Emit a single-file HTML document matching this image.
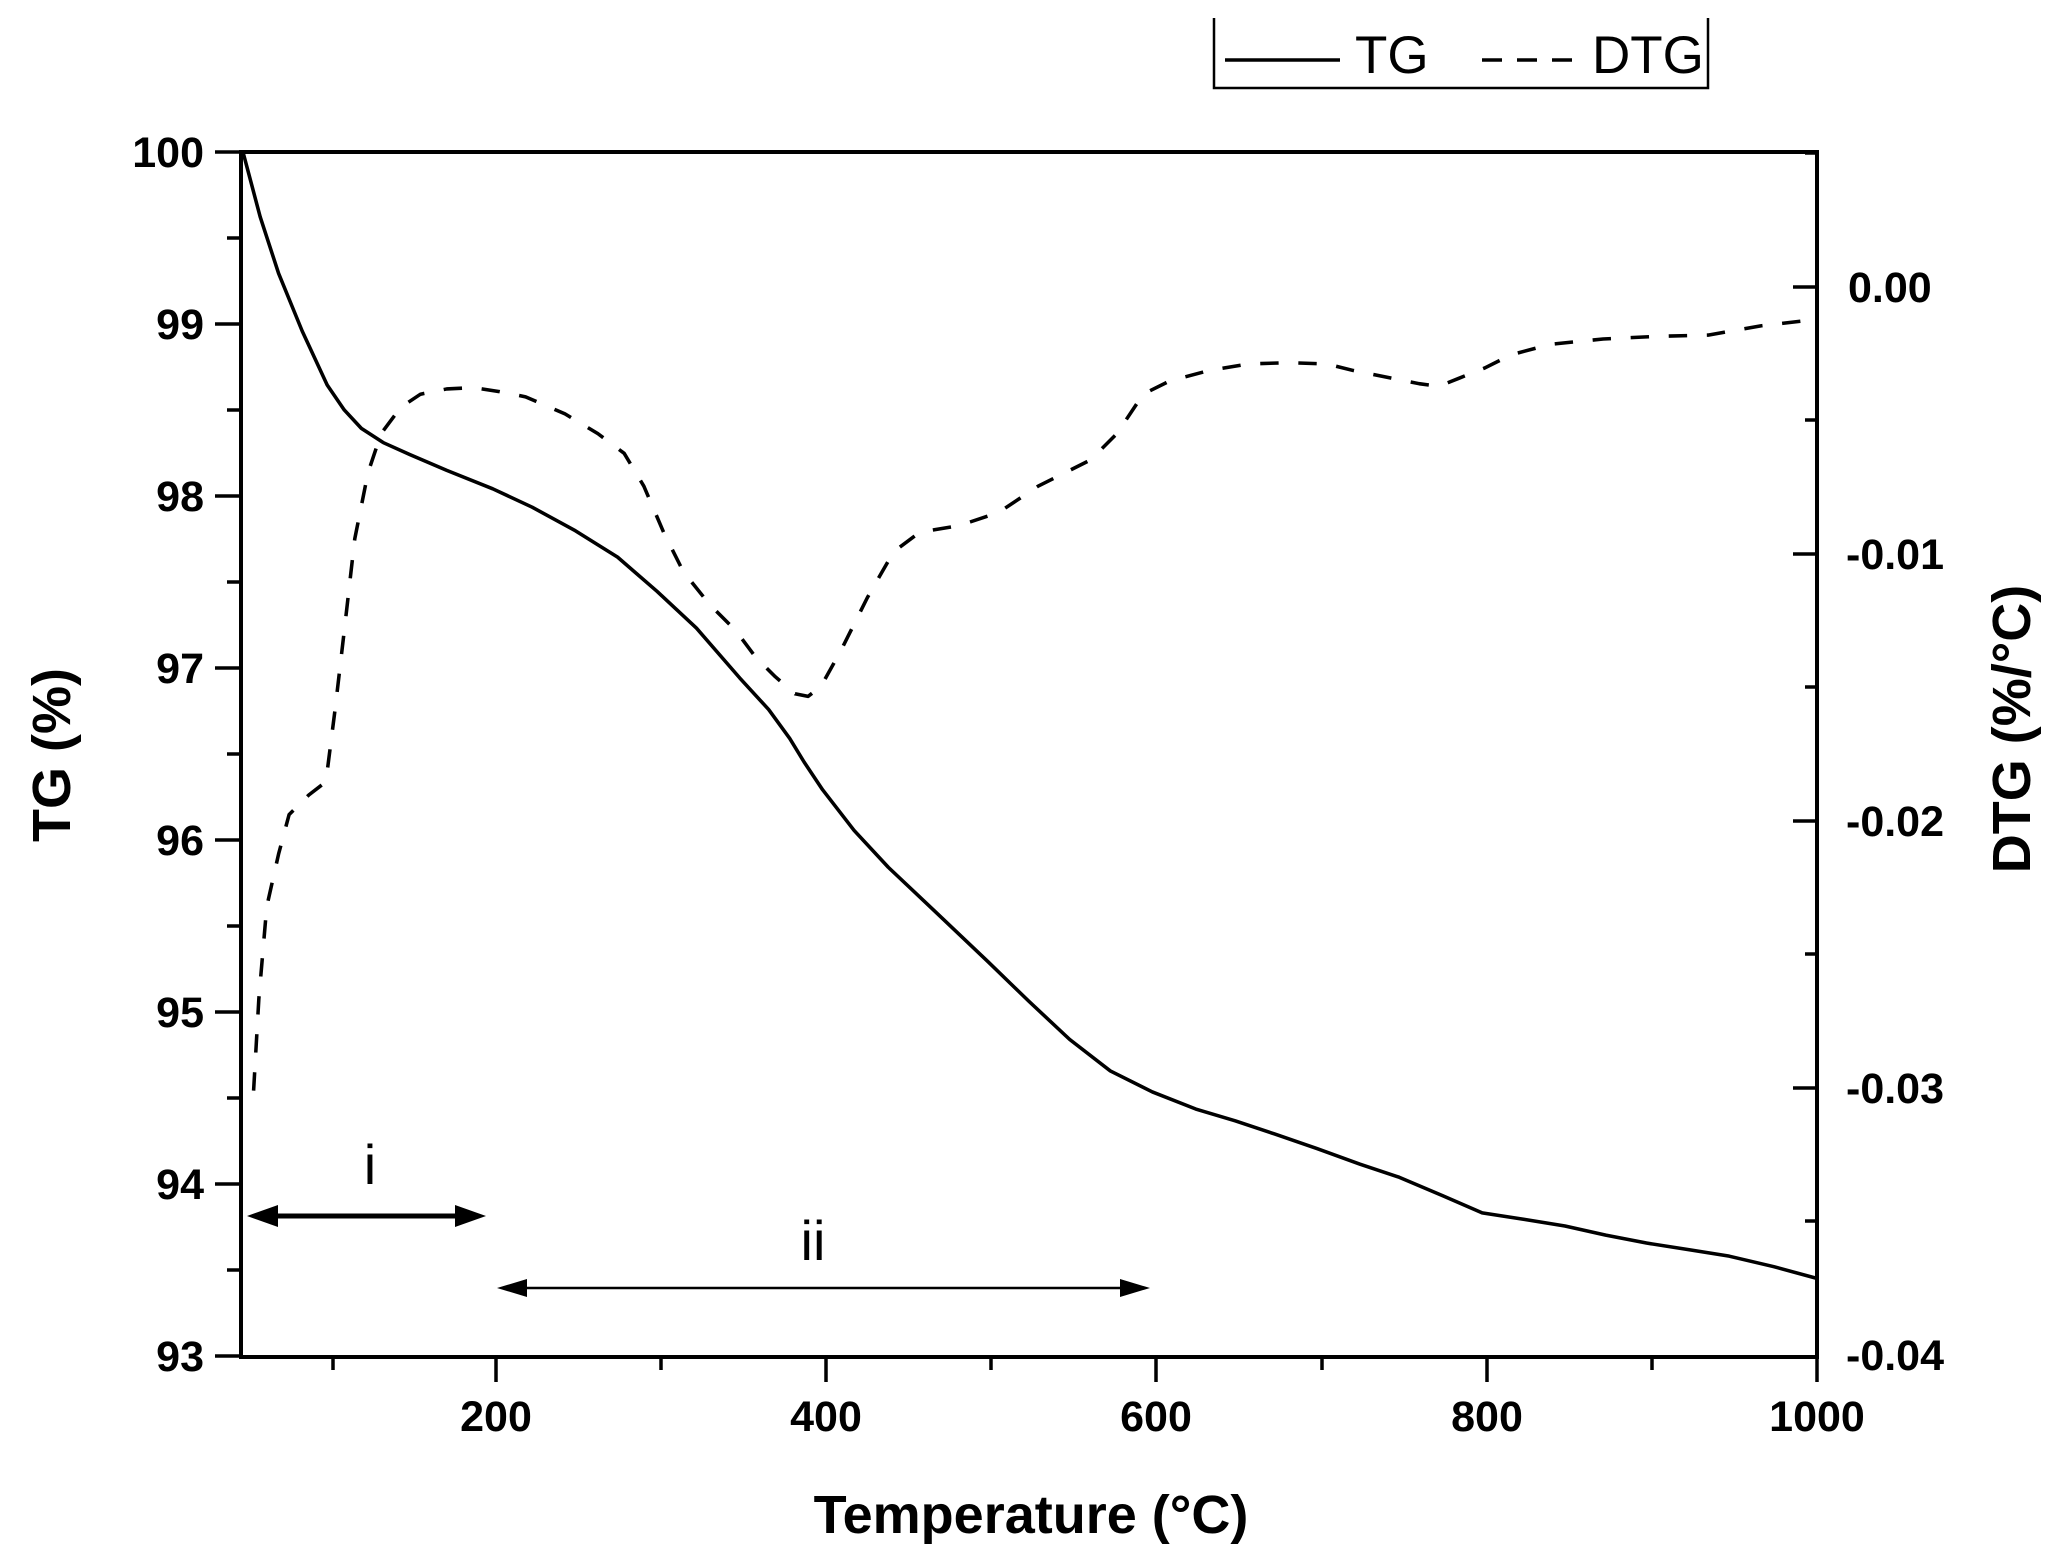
<!DOCTYPE html>
<html><head><meta charset="utf-8"><style>
html,body{margin:0;padding:0;background:#fff;}
svg{display:block;}
text{font-family:"Liberation Sans",Arial,sans-serif;fill:#000;}
</style></head><body>
<svg width="2060" height="1558" viewBox="0 0 2060 1558" xmlns="http://www.w3.org/2000/svg">
<rect width="2060" height="1558" fill="#fff"/>
<g stroke="#000" stroke-width="4" fill="none">
<line x1="241" y1="152" x2="1817" y2="152"/>
<line x1="241" y1="1357" x2="1817" y2="1357"/>
<line x1="241" y1="150" x2="241" y2="1359"/>
<line x1="1817" y1="150" x2="1817" y2="1359"/>
</g>
<g stroke="#000" stroke-width="3.5">
<line x1="215" y1="152" x2="241" y2="152"/><line x1="215" y1="324" x2="241" y2="324"/>
<line x1="215" y1="496" x2="241" y2="496"/><line x1="215" y1="668" x2="241" y2="668"/>
<line x1="215" y1="840" x2="241" y2="840"/><line x1="215" y1="1012" x2="241" y2="1012"/>
<line x1="215" y1="1184" x2="241" y2="1184"/><line x1="215" y1="1356" x2="241" y2="1356"/>
<line x1="227" y1="238" x2="241" y2="238"/><line x1="227" y1="410" x2="241" y2="410"/>
<line x1="227" y1="582" x2="241" y2="582"/><line x1="227" y1="754" x2="241" y2="754"/>
<line x1="227" y1="926" x2="241" y2="926"/><line x1="227" y1="1098" x2="241" y2="1098"/>
<line x1="227" y1="1270" x2="241" y2="1270"/>
<line x1="1793" y1="287" x2="1817" y2="287"/><line x1="1793" y1="554" x2="1817" y2="554"/>
<line x1="1793" y1="821" x2="1817" y2="821"/><line x1="1793" y1="1088" x2="1817" y2="1088"/>
<line x1="1805" y1="153" x2="1817" y2="153"/>
<line x1="1805" y1="420" x2="1817" y2="420"/><line x1="1805" y1="687" x2="1817" y2="687"/>
<line x1="1805" y1="954" x2="1817" y2="954"/><line x1="1805" y1="1221" x2="1817" y2="1221"/>
<line x1="496" y1="1357" x2="496" y2="1382"/><line x1="826" y1="1357" x2="826" y2="1382"/>
<line x1="1156" y1="1357" x2="1156" y2="1382"/><line x1="1487" y1="1357" x2="1487" y2="1382"/>
<line x1="1817" y1="1357" x2="1817" y2="1382"/>
<line x1="333" y1="1357" x2="333" y2="1370"/><line x1="661" y1="1357" x2="661" y2="1370"/>
<line x1="991" y1="1357" x2="991" y2="1370"/><line x1="1322" y1="1357" x2="1322" y2="1370"/>
<line x1="1652" y1="1357" x2="1652" y2="1370"/>
</g>
<g font-size="43" font-weight="bold" text-anchor="end">
<text x="204" y="167">100</text><text x="204" y="339">99</text><text x="204" y="511">98</text>
<text x="204" y="683">97</text><text x="204" y="855">96</text><text x="204" y="1027">95</text>
<text x="204" y="1199">94</text><text x="204" y="1371">93</text>
</g>
<g font-size="43" font-weight="bold" text-anchor="start">
<text x="1848" y="302">0.00</text><text x="1846" y="569">-0.01</text><text x="1846" y="836">-0.02</text>
<text x="1846" y="1103">-0.03</text><text x="1846" y="1370">-0.04</text>
</g>
<g font-size="43" font-weight="bold" text-anchor="middle">
<text x="496" y="1431">200</text><text x="826" y="1431">400</text><text x="1156" y="1431">600</text>
<text x="1487" y="1431">800</text><text x="1817" y="1431">1000</text>
</g>
<text x="1031" y="1533" font-size="54" font-weight="bold" text-anchor="middle">Temperature (°C)</text>
<text transform="translate(70,755) rotate(-90)" font-size="54" font-weight="bold" text-anchor="middle">TG (%)</text>
<text transform="translate(2030,729) rotate(-90)" font-size="54" font-weight="bold" text-anchor="middle">DTG (%/°C)</text>
<g transform="scale(1.314)" fill="none" stroke="#000" stroke-linejoin="round">
<polyline stroke-width="2.7" points="185,116 198,165 212,208 230,252 249,293 262,312 275,326 292,337 312,346 340,358 375,372 405,386 438,404 470,424 500,450 530,478 563,516 585,540 601,562 612,580 626,601 650,632 676,660 712,694 752,732 783,762 814,791 845,815 877,831 910,844 940,853 970,863 1002,874 1035,886 1065,896 1098,910 1128,923 1160,928 1191,933 1222,940 1253,946 1285,951 1316,956 1350,964 1383,973"/>
<polyline stroke-width="2.7" stroke-dasharray="14 15" points="193,830 197,760 203,690 212,650 220,620 235,605 248,595 255,540 262,480 270,410 280,360 290,330 305,310 320,300 340,296 360,295 380,298 400,302 430,315 455,330 475,345 490,370 505,405 520,435 540,460 560,480 575,500 590,515 605,528 615,530 625,522 640,495 660,455 680,420 700,405 730,400 760,390 790,370 830,350 850,330 870,300 890,290 920,282 950,277 980,276 1010,277 1030,282 1060,288 1080,292 1095,294 1110,288 1130,280 1150,270 1180,262 1220,258 1260,256 1300,255 1340,248 1383,243"/>
</g>
<g stroke="#000" fill="#000">
<line x1="262" y1="1216" x2="470" y2="1216" stroke-width="5"/>
<polygon points="247,1216 278,1205 278,1227" stroke="none"/>
<polygon points="486,1216 455,1205 455,1227" stroke="none"/>
<line x1="510" y1="1288" x2="1135" y2="1288" stroke-width="2.5"/>
<polygon points="497,1288 527,1279 527,1297" stroke="none"/>
<polygon points="1150,1288 1120,1279 1120,1297" stroke="none"/>
</g>
<text x="370" y="1184" font-size="56" text-anchor="middle">i</text>
<text x="813" y="1260" font-size="56" text-anchor="middle">ii</text>
<g stroke="#000" fill="none">
<polyline points="1214,18 1214,88 1708,88 1708,18" stroke-width="2.5"/>
<line x1="1225" y1="60" x2="1340" y2="60" stroke-width="3.5"/>
<line x1="1482" y1="60" x2="1572" y2="60" stroke-width="3.5" stroke-dasharray="20 15"/>
</g>
<text x="1355" y="73" font-size="53">TG</text>
<text x="1592" y="73" font-size="53">DTG</text>
</svg>
</body></html>
